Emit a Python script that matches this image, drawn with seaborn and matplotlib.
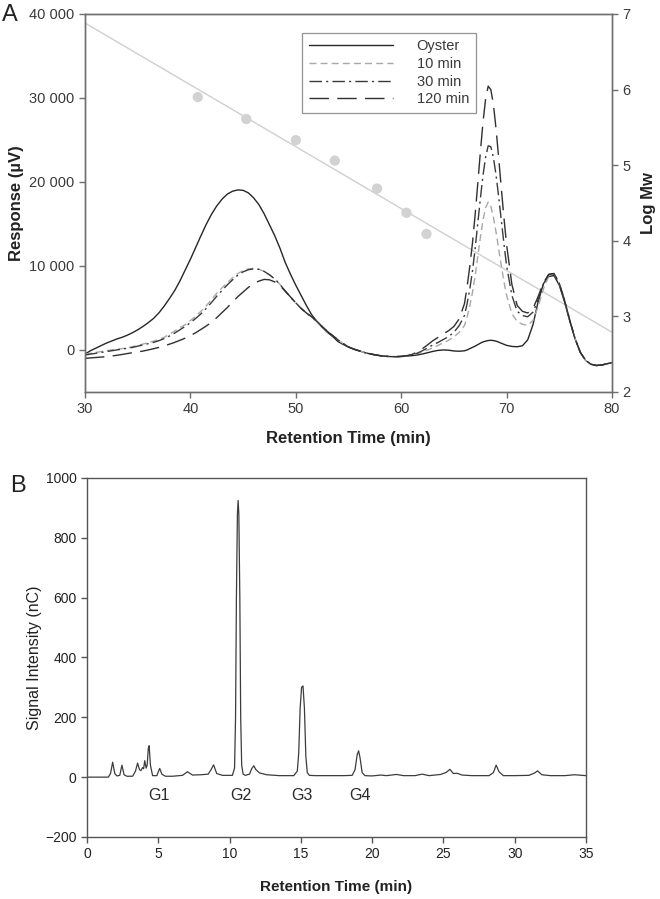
import numpy as np
import pandas as pd
import matplotlib
matplotlib.use('Agg')
import matplotlib.pyplot as plt
from matplotlib.ticker import FuncFormatter
import seaborn as sns

# ===== Panel A: GPC chromatograms (retention time grid, min) =====
time_a = np.r_[np.arange(30, 66, 0.5), np.arange(66, 70, 0.25), np.arange(70, 80.01, 0.5)]

resp_oyster = [
    -500, -100, 200, 500, 800, 1050, 1300, 1500, 1750, 2050,
    2400, 2800, 3250, 3750, 4400, 5200, 6100, 7050, 8200, 9500,
    10800, 12200, 13600, 14950, 16150, 17150, 17950, 18550, 18900, 19050,
    19000, 18700, 18100, 17300, 16200, 14900, 13600, 12100, 10400, 9000,
    7700, 6500, 5300, 4200, 3400, 2700, 2100, 1600, 1000, 650,
    350, 100, -100, -300, -450, -580, -680, -750, -790, -800,
    -780, -740, -680, -600, -480, -330, -170, -50, 0, -30,
    -120, -150,
    -100, 0, 150, 300, 450, 620, 800, 950, 1050, 1120, 1150, 1120, 1050, 930, 800, 670,
    550, 420, 380, 500, 1200, 3000, 5800, 7900, 8750, 8850, 7700, 5700, 3400, 1300,
    -300, -1250, -1700, -1850, -1800, -1650, -1500,
]
resp_10min = [
    -500, -400, -300, -200, -100, 0, 100, 150, 250, 400,
    550, 700, 850, 1050, 1250, 1500, 1850, 2250, 2650, 3000,
    3500, 4000, 4600, 5250, 6000, 6750, 7400, 8000, 8600, 9100,
    9450, 9650, 9700, 9600, 9350, 8950, 8450, 7800, 7000, 6300,
    5600, 4950, 4400, 3950, 3400, 2800, 2200, 1700, 1200, 750,
    350, 100, -100, -300, -450, -580, -680, -750, -790, -800,
    -770, -700, -580, -430, -230, 0, 250, 550, 850, 1150,
    1550, 2100,
    2900, 3900, 5200, 6800, 8700, 11000, 13300, 15400, 16900, 17600, 17100, 15800, 14000, 12000, 10000, 8100,
    6500, 4300, 3400, 3050, 2950, 3500, 5200, 7300, 8800, 9050, 7900, 5900, 3500, 1300,
    -300, -1250, -1700, -1850, -1800, -1650, -1500,
]
resp_30min = [
    -600, -500, -400, -300, -200, -100, 0, 100, 200, 300,
    450, 600, 750, 900, 1100, 1350, 1650, 2000, 2400, 2800,
    3250, 3750, 4300, 4950, 5650, 6400, 7100, 7750, 8350, 8900,
    9300, 9550, 9650, 9600, 9350, 8950, 8450, 7800, 7000, 6300,
    5600, 4950, 4400, 3950, 3400, 2800, 2200, 1700, 1200, 750,
    350, 100, -100, -300, -450, -580, -680, -750, -790, -800,
    -770, -700, -580, -400, -100, 250, 600, 900, 1250, 1600,
    2100, 2900,
    4100, 5500, 7200, 9300, 11900, 14900, 17900, 20700, 22900, 24300, 24200, 22900, 20800, 18200, 15400, 12600,
    10000, 6500, 4600, 4100, 3950, 4500, 6000, 7900, 9000, 9100, 7900, 5900, 3500, 1300,
    -300, -1250, -1700, -1850, -1800, -1650, -1500,
]
resp_120min = [
    -1000, -950, -900, -850, -800, -720, -640, -540, -430, -330,
    -230, -130, 0, 150, 300, 480, 680, 900, 1150, 1400,
    1700, 2050, 2450, 2850, 3300, 3850, 4450, 5050, 5700, 6350,
    6900, 7450, 7900, 8200, 8400, 8350, 8100, 7650, 7000, 6300,
    5600, 4950, 4400, 3950, 3400, 2800, 2200, 1700, 1200, 750,
    350, 100, -100, -300, -450, -580, -680, -750, -790, -800,
    -760, -680, -550, -250, 150, 600, 1100, 1500, 1900, 2300,
    2800, 3700,
    5500, 7500, 9900, 12600, 15900, 19600, 23400, 27000, 29800, 31400, 31000, 29200, 26300, 22800, 19200, 15700,
    12500, 7800, 5300, 4600, 4400, 4900, 6400, 8000, 9000, 9100, 7900, 5900, 3500, 1300,
    -300, -1250, -1700, -1850, -1800, -1650, -1500,
]

# калибровка: стандарты и линия Log Mw
std_time = [40.7, 45.3, 50.0, 53.7, 57.7, 60.5, 62.4]
std_logmw = [5.90, 5.61, 5.33, 5.06, 4.69, 4.37, 4.09]
calib_time = [30, 80]
calib_logmw = [6.88, 2.79]

# ===== Panel B: HPAEC chromatogram =====
b_time = [0, 1.5, 1.65, 1.8, 1.95, 2.1, 2.3, 2.45, 2.6, 2.8, 3.2, 3.4, 3.55, 3.68, 3.78,
          3.9, 3.97, 4.05, 4.15, 4.22, 4.3, 4.36, 4.45, 4.6, 4.9, 5.0, 5.1, 5.25, 5.5,
          6.0, 6.7, 7.05, 7.4, 8.0, 8.5, 8.7, 8.88, 9.1, 9.5, 10.2, 10.35, 10.42, 10.48,
          10.55, 10.6, 10.65, 10.72, 10.78, 10.85, 10.95, 11.1, 11.4, 11.55, 11.7, 11.85,
          12.1, 12.6, 13.5, 14.5, 14.75, 14.85, 14.95, 15.05, 15.15, 15.25, 15.35, 15.45,
          15.6, 16, 17, 18, 18.6, 18.8, 18.95, 19.05, 19.15, 19.3, 19.5, 20, 20.6, 21, 21.7,
          22.2, 23.0, 23.5, 24.0, 24.8, 25.2, 25.45, 25.7, 25.95, 26.3, 27, 28.2, 28.5, 28.7,
          28.9, 29.2, 30, 31, 31.4, 31.6, 31.9, 32.5, 33.5, 34.2, 35]
b_signal = [0, 0, 12, 50, 12, 4, 6, 40, 8, 3, 3, 20, 47, 25, 22,
            32, 28, 55, 30, 40, 95, 105, 40, 5, 5, 18, 29, 10, 3,
            3, 6, 18, 7, 8, 10, 25, 41, 12, 6, 6, 30, 200, 600,
            880, 925, 880, 600, 200, 40, 10, 6, 10, 28, 38, 25,
            14, 8, 5, 5, 20, 80, 230, 300, 305, 230, 70, 15,
            6, 5, 5, 5, 6, 25, 75, 88, 65, 15, 5, 4, 7, 5, 9,
            5, 5, 10, 5, 9, 16, 26, 12, 13, 7, 5, 5, 15, 40,
            18, 5, 5, 6, 14, 21, 8, 5, 5, 8, 5]

peak_names = ['G1', 'G2', 'G3', 'G4']
peak_pos = [5.05, 10.78, 15.05, 19.15]

# ===== оформление =====
sns.set_style('ticks')
plt.rcParams['font.family'] = ['Liberation Sans', 'DejaVu Sans']
axis_grey = '#6e6e6e'
text_grey = '#3a3a3a'

fig = plt.figure(figsize=(6.6, 8.99), dpi=100)
ax_a = fig.add_axes([0.1288, 0.5640, 0.7985, 0.4205])
ax_mw = ax_a.twinx()
ax_a.set_zorder(ax_mw.get_zorder() + 1)
ax_a.patch.set_visible(False)

# калибровочная линия и стандарты (правая ось)
sns.lineplot(x=calib_time, y=calib_logmw, ax=ax_mw, color='#cfcfcf', lw=1.0)
sns.scatterplot(x=std_time, y=std_logmw, ax=ax_mw, color='#d2d2d2', s=55,
                edgecolor='none', zorder=3)
ax_mw.set_ylim(2, 7)
ax_mw.set_yticks([2, 3, 4, 5, 6, 7])

df_a = pd.DataFrame({'t': time_a, 'Oyster': resp_oyster, '10 min': resp_10min,
                     '30 min': resp_30min, '120 min': resp_120min})
styles = {
    'Oyster': dict(color='#262626', linestyle='-'),
    '10 min': dict(color='#a8a8a8', linestyle=(0, (5, 3))),
    '30 min': dict(color='#3a3a3a', linestyle=(0, (9, 3, 1.5, 3))),
    '120 min': dict(color='#303030', linestyle=(0, (14, 6))),
}
for name, st in styles.items():
    sns.lineplot(data=df_a, x='t', y=name, ax=ax_a, lw=1.0, label=name, **st)

ax_a.set_xlim(30, 80)
ax_a.set_ylim(-5000, 40000)
ax_a.set_xticks([30, 40, 50, 60, 70, 80])
ax_a.set_yticks([0, 10000, 20000, 30000, 40000])
ax_a.yaxis.set_major_formatter(FuncFormatter(lambda v, p: f'{int(v):,}'.replace(',', ' ')))

leg = ax_a.legend(loc='upper left', bbox_to_anchor=(0.412, 0.95), borderaxespad=0,
                  fancybox=False, frameon=True, fontsize=10.5, handlelength=5.8,
                  handletextpad=1.6, labelspacing=0.25, borderpad=0.45)
leg.get_frame().set_edgecolor('#777777')
leg.get_frame().set_linewidth(0.9)
for t in leg.get_texts():
    t.set_color(text_grey)

ax_a.set_xlabel('Retention Time (min)', fontsize=12, fontweight='bold', color='#222222')
ax_a.set_ylabel('Response (\u00b5V)', fontsize=12, fontweight='bold', color='#222222')
ax_mw.set_ylabel('Log Mw', fontsize=12, fontweight='bold', color='#222222')
ax_a.xaxis.set_label_coords(0.5, -0.103)
ax_a.yaxis.set_label_coords(-0.115, 0.5)
ax_mw.yaxis.set_label_coords(1.055, 0.5)

for ax in (ax_a, ax_mw):
    for sp in ax.spines.values():
        sp.set_color(axis_grey)
        sp.set_linewidth(1.0)
    ax.tick_params(colors=axis_grey, labelcolor=text_grey, labelsize=10.5,
                   direction='out', length=4, width=1)

# ===== Panel B =====
ax_b = fig.add_axes([0.1318, 0.0690, 0.7561, 0.3993])
sns.lineplot(x=b_time, y=b_signal, ax=ax_b, color='#3c3c3c', lw=0.9)
ax_b.set_xlim(0, 35)
ax_b.set_ylim(-200, 1000)
ax_b.set_xticks(range(0, 36, 5))
ax_b.set_yticks(range(-200, 1001, 200))
for name, pos in zip(peak_names, peak_pos):
    ax_b.text(pos, -60, name, ha='center', va='center', fontsize=11.5, color='#2a2a2a')

ax_b.set_xlabel('Retention Time (min)', fontsize=11, fontweight='bold', color='#222222')
ax_b.set_ylabel('Signal Intensity (nC)', fontsize=11.5, color='#222222')
ax_b.xaxis.set_label_coords(0.5, -0.12)
ax_b.yaxis.set_label_coords(-0.09, 0.5)
for sp in ax_b.spines.values():
    sp.set_color('#555555')
    sp.set_linewidth(1.0)
ax_b.tick_params(colors='#555555', labelcolor='#222222', labelsize=10,
                 direction='out', length=4, width=1)

fig.text(0.003, 0.9766, 'A', fontsize=17, color='#222222')
fig.text(0.015, 0.453, 'B', fontsize=17, color='#222222')

fig.savefig('out.png', dpi=100, facecolor='white')
